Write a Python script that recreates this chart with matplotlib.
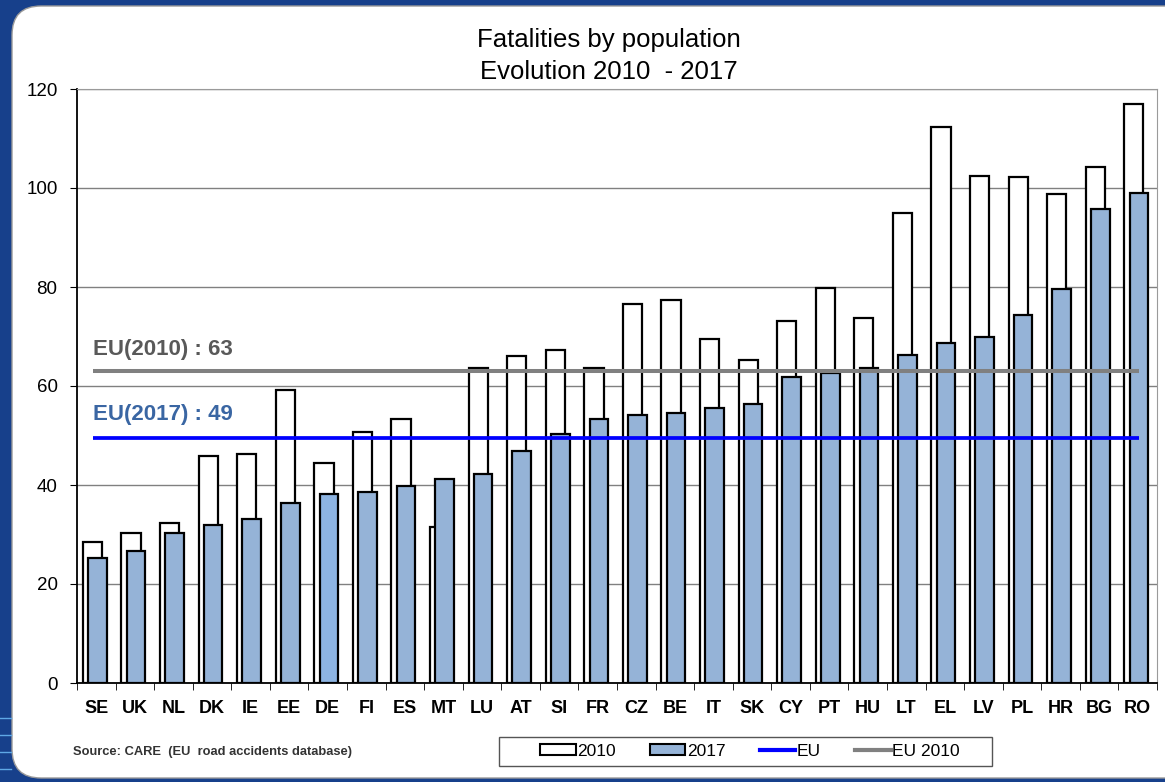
import numpy as np
import matplotlib
matplotlib.use("Agg")
import matplotlib.pyplot as plt
from matplotlib.patches import FancyBboxPatch, Patch, Rectangle
from matplotlib.lines import Line2D

plt.rcParams['font.family'] = ['Liberation Sans', 'DejaVu Sans']

# donnees
countries = ['SE', 'UK', 'NL', 'DK', 'IE', 'EE', 'DE', 'FI', 'ES', 'MT', 'LU', 'AT', 'SI', 'FR',
             'CZ', 'BE', 'IT', 'SK', 'CY', 'PT', 'HU', 'LT', 'EL', 'LV', 'PL', 'HR', 'BG', 'RO']
v2010 = [28.5, 30.4, 32.4, 45.9, 46.3, 59.2, 44.4, 50.7, 53.3, 31.6, 63.6, 66.1, 67.3, 63.6,
         76.6, 77.4, 69.5, 65.3, 73.1, 79.7, 73.8, 94.9, 112.3, 102.5, 102.2, 98.8, 104.2, 117.0]
v2017 = [25.3, 26.7, 30.4, 32.0, 33.1, 36.4, 38.2, 38.5, 39.7, 41.2, 42.3, 46.9, 50.4, 53.3,
         54.2, 54.5, 55.5, 56.4, 61.9, 62.6, 63.6, 66.3, 68.6, 69.8, 74.3, 79.5, 95.8, 98.9]
eu_2010 = 63
eu_2017 = 49.5

W, H = 1165, 782
fig = plt.figure(figsize=(W/100, H/100), dpi=100)
fig.patch.set_facecolor('#17408B')

# panneau blanc arrondi
panel = FancyBboxPatch((12/W, 4/H), 1.2, 772/H, boxstyle="round,pad=0,rounding_size=0.025",
                       transform=fig.transFigure, facecolor='white', edgecolor='#9a9a9a',
                       lw=1, mutation_aspect=W/H, zorder=-10)
fig.patches.append(panel)
for yy in [718, 735, 752, 769]:
    fig.add_artist(Line2D([0, 11/W], [1 - yy/H]*2, color='#5fa8e6', lw=1,
                          transform=fig.transFigure, zorder=-5))

ax = fig.add_axes([77/W, 1 - 683/H, 1080/W, 594/H])
ax.set_facecolor('white')
x = np.arange(len(countries))

col17 = ['#95B3D7'] * len(countries)
col17[countries.index('DE')] = '#8DB4E2'
ax.bar(x - 0.1, v2010, 0.5, color='white', edgecolor='black', lw=1.6, zorder=2)
ax.bar(x + 0.03, v2017, 0.48, color=col17, edgecolor='black', lw=1.6, zorder=3)

ax.hlines(eu_2010, -0.085, 27.03, color='#808080', lw=2.9, zorder=4)
ax.hlines(eu_2017, -0.085, 27.03, color='#0000FF', lw=2.7, zorder=4)
ax.text(-0.085, 66.3, 'EU(2010) : 63', color='#595959', fontsize=16, fontweight='bold', zorder=5)
ax.text(-0.085, 53.1, 'EU(2017) : 49', color='#3A66A3', fontsize=16, fontweight='bold', zorder=5)

ax.set_xlim(-0.5, len(countries) - 0.5)
ax.set_ylim(0, 120)
ax.set_yticks(np.arange(0, 121, 20))
ax.yaxis.grid(True, color='#808080', lw=1)
ax.set_axisbelow(True)
ax.tick_params(axis='y', labelsize=13.5, length=5, color='black', pad=9)
ax.set_xticks(x)
ax.set_xticklabels(countries, fontsize=13, fontweight='bold')
ax.set_xticks(np.arange(-0.5, len(countries)), minor=True)
ax.tick_params(axis='x', which='major', length=0, pad=12)
ax.tick_params(axis='x', which='minor', length=5, color='black')
for s in ['top', 'right']:
    ax.spines[s].set_color('#9a9a9a')
ax.spines['left'].set_linewidth(1.3)
ax.spines['bottom'].set_linewidth(1.3)

fig.text(609/W, 1 - 40/H, 'Fatalities by population', ha='center', va='center', fontsize=18.5)
fig.text(609/W, 1 - 72/H, 'Evolution 2010  - 2017', ha='center', va='center', fontsize=18.5)
fig.text(73/W, 1 - 752/H, 'Source: CARE  (EU  road accidents database)', fontsize=9.3,
         fontweight='bold', color='#333333', va='center')

# legende (cadre dessine a part)
fig.add_artist(Rectangle((499/W, 1 - 766/H), 493/W, 29/H, transform=fig.transFigure,
                         facecolor='white', edgecolor='#555555', lw=1, zorder=-4))
handles = [Patch(facecolor='white', edgecolor='black', lw=1.5),
           Patch(facecolor='#95B3D7', edgecolor='black', lw=1.5),
           Line2D([], [], color='#0000FF', lw=3),
           Line2D([], [], color='#808080', lw=3)]
leg = fig.legend(handles, ['2010', '2017', 'EU', 'EU 2010'], ncol=4, loc='center',
                 bbox_to_anchor=(750/W, 1 - 751/H), frameon=False,
                 fontsize=12.5, handlelength=2.05, handleheight=0.6, handletextpad=0.1,
                 columnspacing=1.95, borderpad=0.2)

fig.savefig('out.png', dpi=100, facecolor=fig.get_facecolor())
